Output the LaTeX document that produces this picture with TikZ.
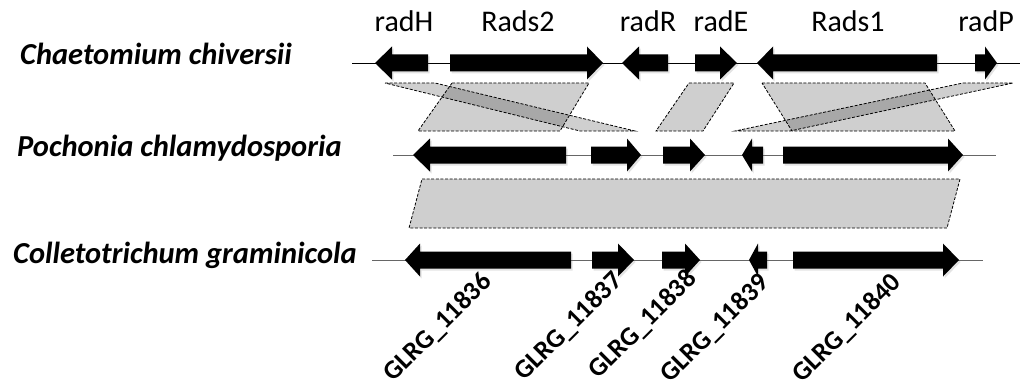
\documentclass[tikz,border=0pt]{standalone}
\usepackage{fontspec}
\setmainfont{Carlito}
\usetikzlibrary{shadows}

% gene arrow: body from #1 to head base #2, tip at #3, on track at height #4
\newcommand\genearrow[4]{%
  \path[genebody] (#1,#4-8.5) -- (#2,#4-8.5) -- (#2,#4-16.5) -- (#3,#4)
    -- (#2,#4+16.5) -- (#2,#4+8.5) -- (#1,#4+8.5) -- cycle;}

\tikzset{
  x=1pt, y=-1pt,
  genebody/.style={fill=black,
    drop shadow={shadow xshift=1.5pt, shadow yshift=-2pt, opacity=0.22}},
  track/.style={line width=0.9pt},
  subtrack/.style={line width=0.9pt, draw=black!60},
  homology/.style={draw=black, dash pattern=on 3pt off 1.6pt, line width=0.8pt,
    fill=black, fill opacity=0.19},
  species/.style={font=\fontsize{30.5}{35}\selectfont\bfseries\itshape, inner sep=0pt},
  genename/.style={font=\fontsize{30}{34}\selectfont, inner sep=0pt, anchor=base},
  locus/.style={font=\fontsize{26.6}{30}\selectfont\bfseries, inner sep=0pt,
    rotate=45, anchor=east},
}

\begin{document}
\begin{tikzpicture}
\useasboundingbox (0,0) rectangle (1027,385);

% species names
\node[species, anchor=base west] (cc) at (20,65) {Chaetomium chiversii};
\node[species, anchor=base west] (pc) at (17,156) {Pochonia chlamydosporia};
\node[species, anchor=base west] (cg) at (13,263) {Colletotrichum graminicola};

% homologous regions
\path[homology] (385,83) -- (435,83) -- (635,131) -- (580,131) -- cycle;
\path[homology] (452,83) -- (589,83) -- (560,131) -- (418,131) -- cycle;
\path[homology] (689,83) -- (734,83) -- (703,131) -- (656,131) -- cycle;
\path[homology] (762,83) -- (925,83) -- (955,131) -- (792,131) -- cycle;
\path[homology] (963,83) -- (1013,83) -- (790,131) -- (735,131) -- cycle;
\path[homology] (422,179) -- (960,179) -- (947,228) -- (409,228) -- cycle;

% chromosome tracks
\coordinate (t1a) at (352,63);  \coordinate (t1b) at (1020,63);
\coordinate (t2a) at (393,155); \coordinate (t2b) at (996,155);
\coordinate (t3a) at (372,260); \coordinate (t3b) at (983,260);
\draw[track] (t1a) -- (t1b);
\draw[subtrack] (t2a) -- (t2b);
\draw[subtrack] (t3a) -- (t3b);

% Chaetomium chiversii cluster
\genearrow{428}{392}{375}{63}
\genearrow{450}{587}{603}{63}
\genearrow{668}{639}{622}{63}
\genearrow{695}{720}{737}{63}
\genearrow{937}{773}{757}{63}
\genearrow{975}{985}{997}{63}

% Pochonia chlamydosporia cluster
\genearrow{566}{430}{413}{155}
\genearrow{591}{627}{641}{155}
\genearrow{663}{690}{705}{155}
\genearrow{763}{752}{742}{155}
\genearrow{783}{948}{963}{155}

% Colletotrichum graminicola cluster
\genearrow{571}{420}{405}{260}
\genearrow{592}{618}{634}{260}
\genearrow{662}{685}{700}{260}
\genearrow{767}{758}{749}{260}
\genearrow{793}{943}{959}{260}

% gene names
\node[genename] (radH) at (404,32) {radH};
\node[genename] (rads2) at (518,32) {Rads2};
\node[genename] (radR) at (648,32) {radR};
\node[genename] (radE) at (721,32) {radE};
\node[genename] (rads1) at (848,32) {Rads1};
\node[genename] (radP) at (986,32) {radP};

% locus tags
\node[locus] (l36) at (488,278) {GLRG\_11836};
\node[locus] (l37) at (619,277) {GLRG\_11837};
\node[locus] (l38) at (693,275) {GLRG\_11838};
\node[locus] (l39) at (765,279) {GLRG\_11839};
\node[locus] (l40) at (897,279) {GLRG\_11840};
\end{tikzpicture}
\end{document}
